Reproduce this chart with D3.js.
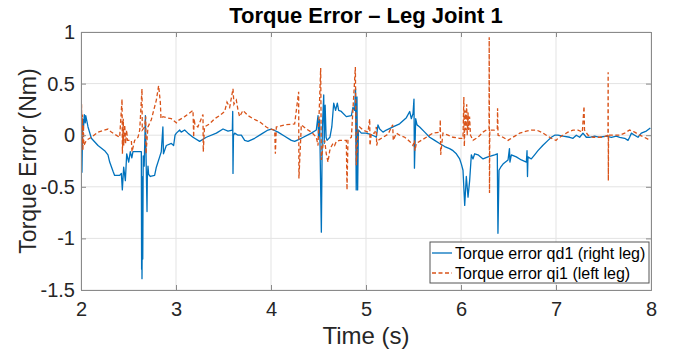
<!DOCTYPE html>
<html>
<head>
<meta charset="utf-8">
<script src="https://cdn.jsdelivr.net/npm/d3@7"></script>
<style>
  body { margin: 0; background: #fff; }
  svg { display: block; font-family: "Liberation Sans", Arial, Helvetica, sans-serif; }
</style>
</head>
<body>
<svg id="chart" width="682" height="353"></svg>
<script>
// values: [time (s), torque error (Nm)]
const rightLeg = [
  [2.000, 0.00], [2.005, -0.15], [2.010, -0.36], [2.015, -0.05], [2.020, 0.15], [2.025, 0.05],
  [2.035, 0.20], [2.045, 0.12], [2.050, 0.19], [2.074, 0.08], [2.109, -0.03], [2.179, -0.10],
  [2.249, -0.15], [2.284, -0.19], [2.302, -0.26], [2.337, -0.35], [2.354, -0.39], [2.407, -0.39],
  [2.425, -0.37], [2.435, -0.53], [2.449, -0.31], [2.467, -0.44], [2.481, -0.18], [2.502, -0.26],
  [2.519, -0.16], [2.535, -0.22], [2.547, -0.16], [2.600, -0.16], [2.635, -0.16], [2.638, -1.30],
  [2.640, -0.40], [2.642, -1.39], [2.645, -0.90], [2.650, -1.20], [2.655, -0.20], [2.665, -0.30],
  [2.678, 0.19], [2.684, -0.17], [2.695, -0.74], [2.698, -0.42], [2.705, -0.30], [2.712, -0.38],
  [2.730, -0.40], [2.775, -0.39], [2.793, -0.31], [2.828, -0.21], [2.845, -0.16], [2.862, 0.08],
  [2.868, -0.18], [2.898, -0.10], [2.951, -0.08], [2.975, -0.10], [2.990, 0.00], [3.004, 0.02],
  [3.039, 0.05], [3.055, 0.03], [3.091, 0.05], [3.126, 0.02], [3.179, -0.02], [3.249, -0.06],
  [3.319, -0.02], [3.425, 0.02], [3.495, 0.06], [3.547, 0.04], [3.593, 0.05], [3.597, 0.23],
  [3.600, -0.37], [3.605, 0.00], [3.618, 0.02], [3.653, 0.00], [3.688, 0.00], [3.723, -0.05],
  [3.758, -0.06], [3.828, -0.03], [3.898, 0.01], [3.968, 0.05], [4.004, 0.06], [4.074, 0.03],
  [4.144, -0.01], [4.214, -0.05], [4.249, -0.06], [4.319, -0.03], [4.425, 0.02], [4.477, 0.05],
  [4.495, 0.19], [4.500, -0.02], [4.512, 0.15], [4.530, -0.94], [4.540, 0.05], [4.555, 0.39],
  [4.560, -0.08], [4.570, 0.29], [4.580, -0.02], [4.590, -0.05], [4.620, -0.02], [4.640, 0.08],
  [4.660, 0.31], [4.680, 0.24], [4.698, 0.31], [4.712, 0.24], [4.740, 0.23], [4.793, 0.18],
  [4.846, 0.19], [4.863, 0.27], [4.880, 0.24], [4.890, 0.45], [4.897, -0.53], [4.905, 0.37],
  [4.912, -0.53], [4.920, 0.05], [4.951, 0.02], [5.000, 0.02], [5.039, 0.01], [5.091, -0.01],
  [5.109, -0.02], [5.126, 0.10], [5.144, 0.06], [5.179, 0.03], [5.214, 0.05], [5.284, 0.08],
  [5.354, 0.11], [5.425, 0.17], [5.460, 0.23], [5.477, 0.16], [5.495, 0.21], [5.505, 0.35],
  [5.510, -0.32], [5.523, 0.16], [5.537, 0.10], [5.565, 0.08], [5.618, 0.03], [5.670, -0.02],
  [5.723, -0.05], [5.775, -0.08], [5.828, -0.11], [5.880, -0.13], [5.916, -0.15], [5.951, -0.18],
  [5.986, -0.23], [6.004, -0.28], [6.021, -0.34], [6.039, -0.68], [6.056, -0.40], [6.074, -0.60],
  [6.091, -0.44], [6.109, -0.19], [6.126, -0.23], [6.144, -0.18], [6.179, -0.19], [6.232, -0.23],
  [6.284, -0.21], [6.354, -0.19], [6.382, -0.18], [6.389, -0.95], [6.400, -0.34], [6.418, -0.31],
  [6.442, -0.28], [6.495, -0.24], [6.510, -0.13], [6.515, -0.26], [6.530, -0.19], [6.582, -0.21],
  [6.635, -0.24], [6.688, -0.26], [6.695, -0.15], [6.700, -0.40], [6.705, -0.21], [6.740, -0.23],
  [6.775, -0.19], [6.810, -0.15], [6.860, -0.10], [6.916, -0.05], [6.951, -0.02], [6.986, 0.00],
  [7.020, 0.00], [7.074, -0.01], [7.144, -0.02], [7.179, -0.03], [7.214, 0.00], [7.249, -0.02],
  [7.284, 0.02], [7.319, -0.02], [7.354, -0.02], [7.407, -0.01], [7.460, -0.02], [7.530, -0.01],
  [7.582, -0.02], [7.635, -0.01], [7.670, -0.02], [7.723, -0.03], [7.758, -0.05], [7.775, -0.02],
  [7.793, 0.02], [7.828, 0.00], [7.863, -0.02], [7.898, 0.02], [7.951, 0.04], [7.993, 0.07]
];

const leftLeg = [
  [2.000, 0.66], [2.003, 0.10], [2.006, 0.30], [2.010, -0.10], [2.015, 0.20], [2.020, -0.15],
  [2.025, 0.10], [2.030, -0.10], [2.056, -0.05], [2.109, -0.02], [2.179, 0.03], [2.284, 0.06],
  [2.319, 0.03], [2.407, -0.02], [2.432, 0.35], [2.436, -0.18], [2.445, 0.16], [2.450, -0.10],
  [2.460, 0.10], [2.470, -0.08], [2.480, 0.05], [2.490, -0.05], [2.530, -0.05], [2.537, -0.16],
  [2.565, -0.05], [2.600, -0.02], [2.618, 0.05], [2.642, 0.45], [2.645, 0.05], [2.670, 0.08],
  [2.681, 0.18], [2.684, -0.18], [2.705, 0.08], [2.740, 0.15], [2.793, 0.34], [2.817, 0.48],
  [2.835, 0.32], [2.842, 0.16], [2.863, 0.18], [2.898, 0.17], [2.951, 0.16], [3.004, 0.12],
  [3.020, 0.14], [3.091, 0.18], [3.179, 0.24], [3.186, -0.02], [3.190, 0.16], [3.200, 0.10],
  [3.230, 0.08], [3.284, 0.20], [3.287, -0.16], [3.300, 0.08], [3.354, 0.11], [3.407, 0.16],
  [3.460, 0.19], [3.512, 0.23], [3.537, 0.32], [3.565, 0.27], [3.600, 0.45], [3.610, 0.30],
  [3.635, 0.34], [3.653, 0.24], [3.670, 0.18], [3.705, 0.24], [3.758, 0.19], [3.810, 0.16],
  [3.880, 0.13], [3.950, 0.08], [3.986, 0.06], [4.039, 0.05], [4.046, -0.18], [4.056, 0.08],
  [4.144, 0.10], [4.249, 0.11], [4.291, 0.42], [4.294, -0.42], [4.319, 0.10], [4.372, 0.06],
  [4.425, 0.03], [4.477, -0.02], [4.495, -0.10], [4.523, 0.65], [4.530, -0.24], [4.547, -0.10],
  [4.565, -0.05], [4.582, -0.18], [4.600, -0.26], [4.618, -0.15], [4.635, -0.11], [4.653, -0.08],
  [4.670, -0.10], [4.688, -0.06], [4.723, -0.05], [4.758, -0.05], [4.793, -0.05], [4.800, -0.53],
  [4.810, -0.05], [4.846, -0.02], [4.888, 0.66], [4.898, -0.29], [4.916, 0.05], [4.933, 0.08],
  [4.968, 0.05], [5.021, 0.03], [5.039, 0.16], [5.042, -0.10], [5.056, 0.02], [5.091, 0.02],
  [5.109, 0.08], [5.112, -0.10], [5.126, -0.05], [5.179, -0.02], [5.232, 0.01], [5.281, 0.10],
  [5.287, -0.05], [5.319, 0.02], [5.354, 0.00], [5.407, -0.02], [5.460, -0.06], [5.495, -0.10],
  [5.510, -0.05], [5.515, -0.15], [5.530, -0.08], [5.582, -0.05], [5.635, -0.02], [5.705, 0.02],
  [5.779, 0.03], [5.782, 0.15], [5.786, -0.19], [5.810, 0.02], [5.863, 0.00], [5.916, -0.02],
  [5.986, -0.03], [6.021, -0.03], [6.030, 0.37], [6.035, -0.11], [6.045, 0.24], [6.050, 0.05],
  [6.060, 0.30], [6.065, 0.00], [6.075, 0.22], [6.080, 0.05], [6.090, 0.18], [6.100, 0.00],
  [6.126, -0.05], [6.179, -0.02], [6.232, 0.03], [6.267, 0.05], [6.295, 0.06], [6.297, 0.95],
  [6.300, -0.56], [6.303, 0.05], [6.354, 0.05], [6.382, 0.06], [6.385, 0.26], [6.390, 0.00],
  [6.442, -0.02], [6.495, -0.05], [6.547, -0.02], [6.618, 0.02], [6.688, 0.04], [6.740, 0.05],
  [6.793, 0.05], [6.846, 0.03], [6.898, 0.00], [6.951, -0.03], [7.000, -0.05], [7.021, -0.03],
  [7.074, 0.00], [7.126, 0.03], [7.179, 0.05], [7.232, 0.05], [7.277, 0.03], [7.295, 0.28],
  [7.300, 0.05], [7.337, 0.00], [7.389, -0.02], [7.460, -0.02], [7.495, -0.02], [7.547, 0.00],
  [7.549, 0.61], [7.551, -0.44], [7.553, 0.00], [7.600, 0.00], [7.670, 0.00], [7.723, 0.02],
  [7.775, 0.05], [7.828, 0.03], [7.880, 0.00], [7.930, -0.02], [7.993, -0.05]
];

const xTicks = [2, 3, 4, 5, 6, 7, 8];
const yTicks = [-1.5, -1, -0.5, 0, 0.5, 1];
const seriesNames = ['Torque error qd1 (right leg)', 'Torque error qi1 (left leg)'];

const margin = { top: 32, right: 31, bottom: 63, left: 81 };
const width = 682 - margin.left - margin.right;
const height = 353 - margin.top - margin.bottom;
const axisColor = '#262626';

const svg = d3.select('#chart');
const g = svg.append('g')
  .attr('transform', 'translate(' + margin.left + ',' + margin.top + ')');

const x = d3.scaleLinear().domain([2, 8]).range([0, width]);
const y = d3.scaleLinear().domain([-1.5, 1]).range([height, 0]);

// grid
g.append('g')
  .selectAll('line')
  .data(xTicks)
  .enter()
  .append('line')
  .attr('x1', d => x(d)).attr('x2', d => x(d))
  .attr('y1', 0).attr('y2', height)
  .attr('stroke', '#e3e3e3').attr('stroke-width', 1);

g.append('g')
  .selectAll('line')
  .data(yTicks)
  .enter()
  .append('line')
  .attr('x1', 0).attr('x2', width)
  .attr('y1', d => y(d)).attr('y2', d => y(d))
  .attr('stroke', '#e3e3e3').attr('stroke-width', 1);

g.append('clipPath').attr('id', 'plotClip')
  .append('rect').attr('width', width).attr('height', height);

const line = d3.line()
  .x(d => x(d[0]))
  .y(d => y(d[1]));

g.append('path')
  .datum(rightLeg)
  .attr('clip-path', 'url(#plotClip)')
  .attr('fill', 'none')
  .attr('stroke', '#0072BD')
  .attr('stroke-width', 1.3)
  .attr('stroke-linejoin', 'round')
  .attr('d', line);

g.append('path')
  .datum(leftLeg)
  .attr('clip-path', 'url(#plotClip)')
  .attr('fill', 'none')
  .attr('stroke', '#D95319')
  .attr('stroke-width', 1.3)
  .attr('stroke-dasharray', '4,2.5')
  .attr('d', line);

// axes (ticks inside, box on all sides)
const xAxis = g.append('g')
  .attr('transform', 'translate(0,' + height + ')')
  .call(d3.axisBottom(x).tickValues(xTicks).tickSize(-5).tickPadding(12).tickFormat(d3.format('d')));
const xAxisTop = g.append('g')
  .call(d3.axisTop(x).tickValues(xTicks).tickSize(-5).tickFormat(''));
const yAxis = g.append('g')
  .call(d3.axisLeft(y).tickValues(yTicks).tickSize(-5).tickPadding(6).tickFormat(d => String(d)));
const yAxisRight = g.append('g')
  .attr('transform', 'translate(' + width + ',0)')
  .call(d3.axisRight(y).tickValues(yTicks).tickSize(-5).tickFormat(''));

[xAxis, xAxisTop, yAxis, yAxisRight].forEach(a => {
  a.select('.domain').attr('stroke', '#8a8a8a');
  a.selectAll('.tick line').attr('stroke', '#8a8a8a');
  a.selectAll('.tick text')
    .attr('fill', axisColor)
    .style('font-size', '20px')
    .style('font-family', '"Liberation Sans", Arial, sans-serif');
});

// title and labels
svg.append('text')
  .attr('x', margin.left + width / 2)
  .attr('y', 23)
  .attr('text-anchor', 'middle')
  .style('font-size', '22px')
  .style('font-weight', 'bold')
  .attr('fill', '#000')
  .text('Torque Error \u2013 Leg Joint 1');

svg.append('text')
  .attr('x', margin.left + width / 2)
  .attr('y', 344)
  .attr('text-anchor', 'middle')
  .style('font-size', '24px')
  .attr('fill', axisColor)
  .text('Time (s)');

svg.append('text')
  .attr('transform', 'translate(36,' + (margin.top + height / 2) + ') rotate(-90)')
  .attr('text-anchor', 'middle')
  .style('font-size', '23px')
  .attr('fill', axisColor)
  .text('Torque Error (Nm)');

// legend
const legend = g.append('g')
  .attr('transform', 'translate(' + (width - 221) + ',' + (height - 48) + ')');

legend.append('rect')
  .attr('width', 219).attr('height', 41)
  .attr('fill', '#fff')
  .attr('stroke', '#555').attr('stroke-width', 1);

const legendStyles = [
  { color: '#0072BD', dash: null },
  { color: '#D95319', dash: '4,2.5' }
];

seriesNames.forEach((name, i) => {
  const row = legend.append('g').attr('transform', 'translate(0,' + (11 + i * 20) + ')');
  row.append('line')
    .attr('x1', 2).attr('x2', 22)
    .attr('y1', 0).attr('y2', 0)
    .attr('stroke', legendStyles[i].color)
    .attr('stroke-width', 1.3)
    .attr('stroke-dasharray', legendStyles[i].dash);
  row.append('text')
    .attr('x', 25).attr('y', 5.5)
    .style('font-size', '16px')
    .attr('fill', '#000')
    .text(name);
});
</script>
</body>
</html>
